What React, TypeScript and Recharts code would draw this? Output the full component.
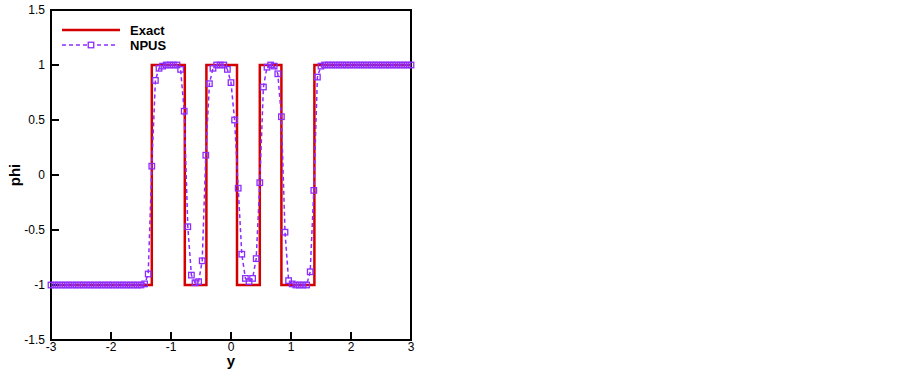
import React from "react";
import { ComposedChart, Line, XAxis, YAxis, ReferenceArea } from "recharts";

const RED = "#d40000";
const PURPLE = "#8c2cff";
const FONT = "'Liberation Sans', Arial, sans-serif";

const X_TICKS = [-3, -2, -1, 0, 1, 2, 3];
const Y_TICKS = [-1.5, -1, -0.5, 0, 0.5, 1, 1.5];

// exact solution: piecewise constant, jumps at these y
const EXACT_BREAKS = [-1.32, -0.77, -0.41, 0.1, 0.48, 0.84, 1.39];
const EXACT_LEVELS = [-1, 1, -1, 1, -1, 1, -1, 1];

// NPUS solution on a uniform grid, y = -3 .. 3 step 0.06
const NPUS_Y0 = -3;
const NPUS_DY = 0.06;
const NPUS_PHI = [
  -1, -1, -1, -1, -1, -1, -1, -1, -1, -1,
  -1, -1, -1, -1, -1, -1, -1, -1, -1, -1,
  -1, -1, -1, -1, -1, -1, -0.99, -0.9, 0.08, 0.86,
  0.97, 0.99, 1, 1, 1, 1, 0.96, 0.58, -0.47, -0.91,
  -0.98, -0.97, -0.78, 0.18, 0.83, 0.97, 1, 1, 1, 0.96,
  0.84, 0.5, -0.12, -0.72, -0.94, -0.97, -0.94, -0.76, -0.07, 0.8,
  0.98, 1, 0.99, 0.92, 0.53, -0.52, -0.96, -0.99, -1, -1,
  -1, -1, -0.88, -0.14, 0.89, 0.99, 1, 1, 1, 1,
  1, 1, 1, 1, 1, 1, 1, 1, 1, 1,
  1, 1, 1, 1, 1, 1, 1, 1, 1, 1,
  1,
];

const exactData: { y: number; phi: number }[] = [{ y: -3, phi: EXACT_LEVELS[0] }];
EXACT_BREAKS.forEach((b, i) => {
  exactData.push({ y: b, phi: EXACT_LEVELS[i] });
  exactData.push({ y: b, phi: EXACT_LEVELS[i + 1] });
});
exactData.push({ y: 3, phi: EXACT_LEVELS[EXACT_LEVELS.length - 1] });

const npusData = NPUS_PHI.map((phi, k) => ({ y: +(NPUS_Y0 + k * NPUS_DY).toFixed(2), phi }));

const SquareDot = (props: any) => {
  const { cx, cy, index } = props;
  return (
    <rect key={index} x={cx - 2.75} y={cy - 2.75} width={5.5} height={5.5}
      fill="none" stroke={PURPLE} strokeWidth={1.3} />
  );
};

const LegendBox = () => (
  <svg width={130} height={32} style={{ position: "absolute", left: 58, top: 22 }}>
    <line x1={4} x2={62} y1={8} y2={8} stroke={RED} strokeWidth={2.5} />
    <text x={72} y={12.5} fontFamily={FONT} fontWeight="bold" fontSize={13}>Exact</text>
    <line x1={4} x2={60} y1={23} y2={23} stroke={PURPLE} strokeWidth={1.5} strokeDasharray="4 3" />
    <rect x={30.25} y={20.25} width={5.5} height={5.5} fill="#fff" stroke={PURPLE} strokeWidth={1.3} />
    <text x={72} y={27.5} fontFamily={FONT} fontWeight="bold" fontSize={13}>NPUS</text>
  </svg>
);

export default function App() {
  const tickStyle = { fill: "#000", fontSize: 12, fontFamily: FONT };
  return (
    <div style={{ position: "absolute", left: 0, top: 0, width: 903, height: 372, background: "#fff" }}>
      <ComposedChart width={903} height={372} margin={{ top: 10, right: 492, bottom: 2, left: 6 }}>
        <XAxis
          type="number"
          dataKey="y"
          domain={[-3, 3]}
          ticks={X_TICKS}
          height={30}
          tickSize={-8}
          tickMargin={10}
          axisLine={{ stroke: "#000", strokeWidth: 2 }}
          tickLine={{ stroke: "#000", strokeWidth: 2 }}
          tick={tickStyle}
          label={{ value: "y", position: "insideBottom", offset: 4, fill: "#000", fontSize: 15, fontWeight: "bold", fontFamily: FONT }}
        />
        <YAxis
          type="number"
          dataKey="phi"
          domain={[-1.5, 1.5]}
          ticks={Y_TICKS}
          width={45}
          tickSize={-8}
          tickMargin={14}
          axisLine={{ stroke: "#000", strokeWidth: 2 }}
          tickLine={{ stroke: "#000", strokeWidth: 2 }}
          tick={tickStyle}
          label={{ value: "phi", angle: -90, position: "center", dx: -14, fill: "#000", fontSize: 15, fontWeight: "bold", fontFamily: FONT }}
        />
        <ReferenceArea x1={-3} x2={3} y1={-1.5} y2={1.5} fill="none" fillOpacity={0} stroke="#000" strokeWidth={2} />
        <Line
          data={exactData}
          dataKey="phi"
          type="linear"
          stroke={RED}
          strokeWidth={2.5}
          dot={false}
          isAnimationActive={false}
        />
        <Line
          data={npusData}
          dataKey="phi"
          type="linear"
          stroke={PURPLE}
          strokeWidth={1.5}
          strokeDasharray="4 3"
          dot={SquareDot}
          activeDot={false}
          isAnimationActive={false}
        />
      </ComposedChart>
      <LegendBox />
    </div>
  );
}
